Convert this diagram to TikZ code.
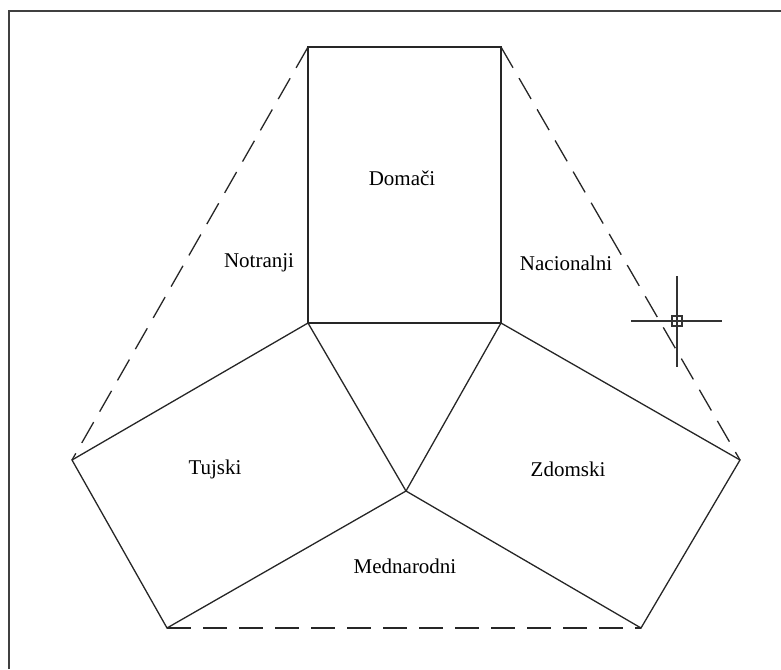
\documentclass[tikz,border=0pt]{standalone}
\usepackage{fontspec}
\setmainfont{Liberation Serif}
\usetikzlibrary{positioning}

\tikzset{
  edgeline/.style={draw=black!85, line width=1.3pt, line join=miter},
  hidden/.style={draw=black!85, line width=1.3pt, dash pattern=on 24pt off 12pt},
  region/.style={font=\fontsize{21}{25}\selectfont, inner sep=0pt},
  frameline/.style={draw=black!75, line width=2.2pt},
  cursor/.style={draw=black!80, line width=1.3pt}
}

\begin{document}
\begin{tikzpicture}[x=1pt,y=-1pt]
\useasboundingbox (0,0) rectangle (781,669);
% frame
\coordinate (fa) at (9,669);
\coordinate (fb) at (9,11);
\coordinate (fc) at (781,11);
\draw [frameline] (fa) -- (fb) -- (fc);
% corners
\coordinate (dtl) at (308,47);
\coordinate (dtr) at (501,47);
\coordinate (dbl) at (308,323);
\coordinate (dbr) at (501,323);
\coordinate (mid) at (406,491);
\coordinate (tl) at (72,460);
\coordinate (tb) at (167,628);
\coordinate (zr) at (740,460);
\coordinate (zb) at (641,628);
% solid parts
\path [edgeline] (dtl) -- (dtr) -- (dbr) -- (dbl) -- cycle;
\path [edgeline] (dbl) -- (tl) -- (tb) -- (mid) -- cycle;
\path [edgeline] (dbr) -- (zr) -- (zb) -- (mid) -- cycle;
% dashed parts
\path [hidden] (dtl) -- (tl);
\path [hidden] (dtr) -- (zr);
\path [hidden] (tb) -- (zb);
% labels
\node [region] (domaci) at (402,178) {Domači};
\node [region] (notranji) at (259,263) {Notranji};
\node [region] (nacionalni) at (566,263) {Nacionalni};
\node [region] (tujski) at (215,469) {Tujski};
\node [region] (zdomski) at (568,469) {Zdomski};
\node [region] (mednarodni) at (405,566) {Mednarodni};
% cursor
\coordinate (cc) at (677,321);
\draw [cursor] (631,321) -- (722,321);
\draw [cursor] (677,276) -- (677,367);
\draw [cursor] (672,316) rectangle (682,326);
\end{tikzpicture}
\end{document}
